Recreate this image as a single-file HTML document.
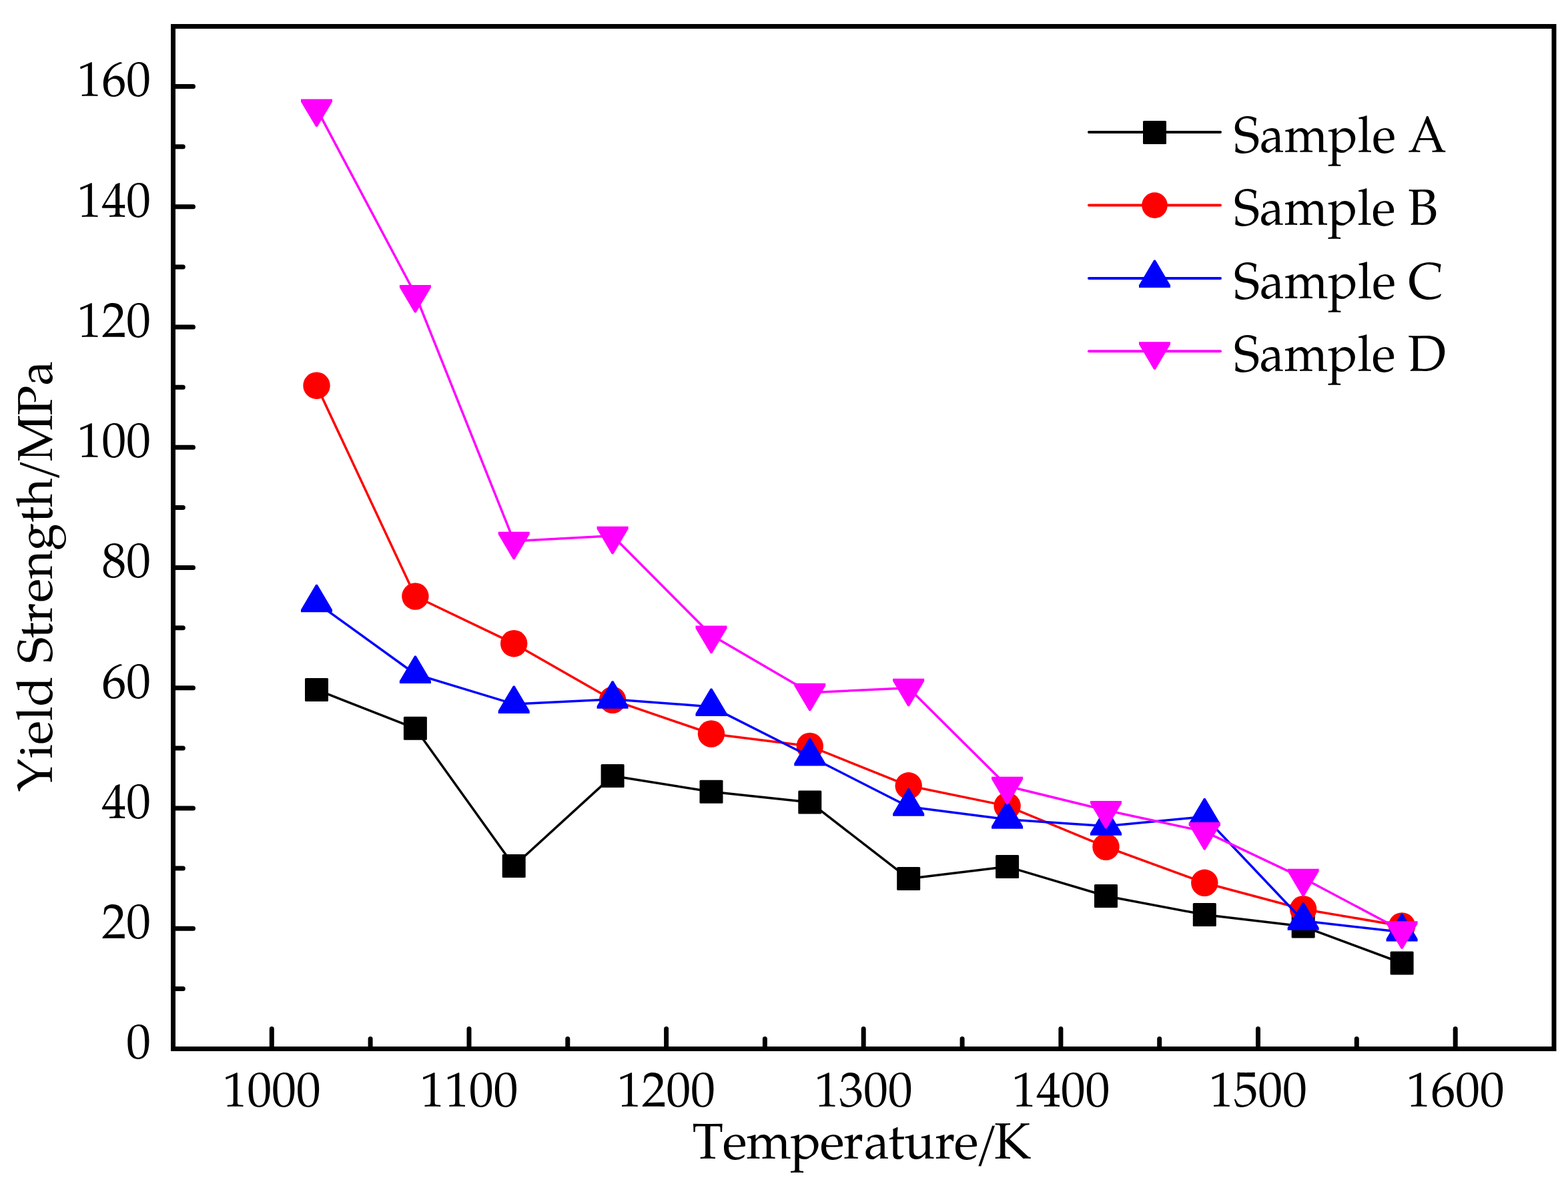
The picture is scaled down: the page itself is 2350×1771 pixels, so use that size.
<!DOCTYPE html>
<html><head><meta charset="utf-8"><title>Yield Strength vs Temperature</title>
<style>
html,body{margin:0;padding:0;background:#fff;}
body{width:2350px;height:1771px;overflow:hidden;}
svg{display:block;}
text{font-family:'TeX Gyre Pagella','Palatino Linotype','Book Antiqua',Palatino,'Liberation Serif',serif;fill:#000;font-kerning:none;}
</style></head><body>
<svg width="2350" height="1771" viewBox="0 0 2350 1771">
<rect x="0" y="0" width="2350" height="1771" fill="#fff"/>

<polyline points='474.5,1033.4 622.4,1091.3 770.2,1297.5 918.1,1162.4 1066,1186.3 1213.8,1201.9 1361.7,1316.4 1509.6,1298.5 1657.5,1342.5 1805.3,1370.5 1953.2,1388.1 2101.1,1443' fill='none' stroke='#000000' stroke-width='3.5' stroke-linejoin='round'/>
<rect x='457' y='1015.9' width='35' height='35' rx='1.5' fill='#000000'/>
<rect x='604.9' y='1073.8' width='35' height='35' rx='1.5' fill='#000000'/>
<rect x='752.7' y='1280' width='35' height='35' rx='1.5' fill='#000000'/>
<rect x='900.6' y='1144.9' width='35' height='35' rx='1.5' fill='#000000'/>
<rect x='1048.5' y='1168.8' width='35' height='35' rx='1.5' fill='#000000'/>
<rect x='1196.3' y='1184.4' width='35' height='35' rx='1.5' fill='#000000'/>
<rect x='1344.2' y='1298.9' width='35' height='35' rx='1.5' fill='#000000'/>
<rect x='1492.1' y='1281' width='35' height='35' rx='1.5' fill='#000000'/>
<rect x='1640' y='1325' width='35' height='35' rx='1.5' fill='#000000'/>
<rect x='1787.8' y='1353' width='35' height='35' rx='1.5' fill='#000000'/>
<rect x='1935.7' y='1370.6' width='35' height='35' rx='1.5' fill='#000000'/>
<rect x='2083.6' y='1425.5' width='35' height='35' rx='1.5' fill='#000000'/>
<polyline points='474.5,577.7 622.4,893.5 770.2,964.2 918.1,1048.8 1066,1099.5 1213.8,1118 1361.7,1177.3 1509.6,1207.6 1657.5,1268.8 1805.3,1322.8 1953.2,1362.2 2101.1,1387.4' fill='none' stroke='#ff0000' stroke-width='3.5' stroke-linejoin='round'/>
<circle cx='474.5' cy='577.7' r='20.2' fill='#ff0000'/>
<circle cx='622.4' cy='893.5' r='20.2' fill='#ff0000'/>
<circle cx='770.2' cy='964.2' r='20.2' fill='#ff0000'/>
<circle cx='918.1' cy='1048.8' r='20.2' fill='#ff0000'/>
<circle cx='1066' cy='1099.5' r='20.2' fill='#ff0000'/>
<circle cx='1213.8' cy='1118' r='20.2' fill='#ff0000'/>
<circle cx='1361.7' cy='1177.3' r='20.2' fill='#ff0000'/>
<circle cx='1509.6' cy='1207.6' r='20.2' fill='#ff0000'/>
<circle cx='1657.5' cy='1268.8' r='20.2' fill='#ff0000'/>
<circle cx='1805.3' cy='1322.8' r='20.2' fill='#ff0000'/>
<circle cx='1953.2' cy='1362.2' r='20.2' fill='#ff0000'/>
<circle cx='2101.1' cy='1387.4' r='20.2' fill='#ff0000'/>
<polyline points='474.5,903.2 622.4,1010 770.2,1054.9 918.1,1047.7 1066,1058.9 1213.8,1133.5 1361.7,1208.8 1509.6,1227.8 1657.5,1237.8 1805.3,1223.6 1953.2,1379.7 2101.1,1396.6' fill='none' stroke='#0000ff' stroke-width='3.5' stroke-linejoin='round'/>
<polygon points='473.3,875.7 475.7,875.7 498,913.4 498,917.2 451,917.2 451,913.4' fill='#0000ff'/>
<polygon points='621.2,982.5 623.6,982.5 645.9,1020.2 645.9,1024 598.9,1024 598.9,1020.2' fill='#0000ff'/>
<polygon points='769,1027.4 771.4,1027.4 793.7,1065.1 793.7,1068.9 746.7,1068.9 746.7,1065.1' fill='#0000ff'/>
<polygon points='916.9,1020.2 919.3,1020.2 941.6,1057.9 941.6,1061.7 894.6,1061.7 894.6,1057.9' fill='#0000ff'/>
<polygon points='1064.8,1031.4 1067.2,1031.4 1089.5,1069.1 1089.5,1072.9 1042.5,1072.9 1042.5,1069.1' fill='#0000ff'/>
<polygon points='1212.6,1106 1215,1106 1237.3,1143.7 1237.3,1147.5 1190.3,1147.5 1190.3,1143.7' fill='#0000ff'/>
<polygon points='1360.5,1181.3 1362.9,1181.3 1385.2,1219 1385.2,1222.8 1338.2,1222.8 1338.2,1219' fill='#0000ff'/>
<polygon points='1508.4,1200.3 1510.8,1200.3 1533.1,1238 1533.1,1241.8 1486.1,1241.8 1486.1,1238' fill='#0000ff'/>
<polygon points='1656.3,1210.3 1658.7,1210.3 1681,1248 1681,1251.8 1634,1251.8 1634,1248' fill='#0000ff'/>
<polygon points='1804.1,1196.1 1806.5,1196.1 1828.8,1233.8 1828.8,1237.6 1781.8,1237.6 1781.8,1233.8' fill='#0000ff'/>
<polygon points='1952,1352.2 1954.4,1352.2 1976.7,1389.9 1976.7,1393.7 1929.7,1393.7 1929.7,1389.9' fill='#0000ff'/>
<polygon points='2099.9,1369.1 2102.3,1369.1 2124.6,1406.8 2124.6,1410.6 2077.6,1410.6 2077.6,1406.8' fill='#0000ff'/>
<polyline points='474.5,162.6 622.4,441 770.2,810.8 918.1,802.7 1066,951.6 1213.8,1037.7 1361.7,1030.7 1509.6,1177.8 1657.5,1214 1805.3,1245.9 1953.2,1315.8 2101.1,1394.2' fill='none' stroke='#ff00ff' stroke-width='3.5' stroke-linejoin='round'/>
<polygon points='473.3,190.1 475.7,190.1 498,152.4 498,148.6 451,148.6 451,152.4' fill='#ff00ff'/>
<polygon points='621.2,468.5 623.6,468.5 645.9,430.8 645.9,427 598.9,427 598.9,430.8' fill='#ff00ff'/>
<polygon points='769,838.3 771.4,838.3 793.7,800.6 793.7,796.8 746.7,796.8 746.7,800.6' fill='#ff00ff'/>
<polygon points='916.9,830.2 919.3,830.2 941.6,792.5 941.6,788.7 894.6,788.7 894.6,792.5' fill='#ff00ff'/>
<polygon points='1064.8,979.1 1067.2,979.1 1089.5,941.4 1089.5,937.6 1042.5,937.6 1042.5,941.4' fill='#ff00ff'/>
<polygon points='1212.6,1065.2 1215,1065.2 1237.3,1027.5 1237.3,1023.7 1190.3,1023.7 1190.3,1027.5' fill='#ff00ff'/>
<polygon points='1360.5,1058.2 1362.9,1058.2 1385.2,1020.5 1385.2,1016.7 1338.2,1016.7 1338.2,1020.5' fill='#ff00ff'/>
<polygon points='1508.4,1205.3 1510.8,1205.3 1533.1,1167.6 1533.1,1163.8 1486.1,1163.8 1486.1,1167.6' fill='#ff00ff'/>
<polygon points='1656.3,1241.5 1658.7,1241.5 1681,1203.8 1681,1200 1634,1200 1634,1203.8' fill='#ff00ff'/>
<polygon points='1804.1,1273.4 1806.5,1273.4 1828.8,1235.7 1828.8,1231.9 1781.8,1231.9 1781.8,1235.7' fill='#ff00ff'/>
<polygon points='1952,1343.3 1954.4,1343.3 1976.7,1305.6 1976.7,1301.8 1929.7,1301.8 1929.7,1305.6' fill='#ff00ff'/>
<polygon points='2099.9,1421.7 2102.3,1421.7 2124.6,1384 2124.6,1380.2 2077.6,1380.2 2077.6,1384' fill='#ff00ff'/>
<rect x='259.5' y='39.5' width='2069.5' height='1532' fill='none' stroke='#000' stroke-width='7'/>
<path d='M259.5 1481.4H274.3 M259.5 1391.3H289.5 M259.5 1301.1H274.3 M259.5 1211H289.5 M259.5 1120.9H274.3 M259.5 1030.8H289.5 M259.5 940.7H274.3 M259.5 850.6H289.5 M259.5 760.4H274.3 M259.5 670.3H289.5 M259.5 580.2H274.3 M259.5 490.1H289.5 M259.5 400H274.3 M259.5 309.8H289.5 M259.5 219.7H274.3 M259.5 129.6H289.5 M407.3 1571.5V1541.5 M555.1 1571.5V1556.5 M703 1571.5V1541.5 M850.8 1571.5V1556.5 M998.6 1571.5V1541.5 M1146.4 1571.5V1556.5 M1294.2 1571.5V1541.5 M1442.1 1571.5V1556.5 M1589.9 1571.5V1541.5 M1737.7 1571.5V1556.5 M1885.5 1571.5V1541.5 M2033.3 1571.5V1556.5 M2181.2 1571.5V1541.5' stroke='#000' stroke-width='7' stroke-linecap='round' fill='none'/>
<text x='226' y='1586.2' font-size='73.5' text-anchor='end'>0</text>
<text x='226' y='1406' font-size='73.5' text-anchor='end'>20</text>
<text x='226' y='1225.7' font-size='73.5' text-anchor='end'>40</text>
<text x='226' y='1045.5' font-size='73.5' text-anchor='end'>60</text>
<text x='226' y='865.3' font-size='73.5' text-anchor='end'>80</text>
<text x='226' y='685' font-size='73.5' text-anchor='end'>100</text>
<text x='226' y='504.8' font-size='73.5' text-anchor='end'>120</text>
<text x='226' y='324.5' font-size='73.5' text-anchor='end'>140</text>
<text x='226' y='144.3' font-size='73.5' text-anchor='end'>160</text>
<text x='407.3' y='1657.5' font-size='73.5' text-anchor='middle'>1000</text>
<text x='703' y='1657.5' font-size='73.5' text-anchor='middle'>1100</text>
<text x='998.6' y='1657.5' font-size='73.5' text-anchor='middle'>1200</text>
<text x='1294.2' y='1657.5' font-size='73.5' text-anchor='middle'>1300</text>
<text x='1589.9' y='1657.5' font-size='73.5' text-anchor='middle'>1400</text>
<text x='1885.5' y='1657.5' font-size='73.5' text-anchor='middle'>1500</text>
<text x='2181.2' y='1657.5' font-size='73.5' text-anchor='middle'>1600</text>
<text x='1037.6 1083 1118.4 1184.6 1229.1 1264.1 1295.1 1331.1 1355.2 1401.3 1430 1460.2 1490.1' y='1736.4' font-size='76'>Temperature/K</text>
<text transform='translate(78,1187) rotate(-90)' x='0.8 50.5 71.6 106.9 128.4 157.3 193.6 230.3 254.3 284.6 319.7 362.1 403.7 427.6 464.7 495.7 564.5 609.6' y='0' font-size='74'>Yield Strength/MPa</text>
<line x1='1632' y1='197.9' x2='1829' y2='197.9' stroke='#000000' stroke-width='4' stroke-linecap='round'/>
<rect x='1713' y='180.9' width='35' height='35' rx='1.5' fill='#000000'/>
<text x='1849' y='227.6' font-size='76' textLength='319' lengthAdjust='spacingAndGlyphs'>Sample A</text>
<line x1='1632' y1='307.6' x2='1829' y2='307.6' stroke='#ff0000' stroke-width='4' stroke-linecap='round'/>
<circle cx='1730.5' cy='307.6' r='19.3' fill='#ff0000'/>
<text x='1849' y='337.1' font-size='76' textLength='306' lengthAdjust='spacingAndGlyphs'>Sample B</text>
<line x1='1632' y1='417' x2='1829' y2='417' stroke='#0000ff' stroke-width='4' stroke-linecap='round'/>
<polygon points='1729.3,389.5 1731.7,389.5 1754,427.2 1754,431 1707,431 1707,427.2' fill='#0000ff'/>
<text x='1849' y='446.6' font-size='76' textLength='314' lengthAdjust='spacingAndGlyphs'>Sample C</text>
<line x1='1632' y1='526.2' x2='1829' y2='526.2' stroke='#ff00ff' stroke-width='4' stroke-linecap='round'/>
<polygon points='1729.3,553.7 1731.7,553.7 1754,516 1754,512.2 1707,512.2 1707,516' fill='#ff00ff'/>
<text x='1849' y='555.8' font-size='76' textLength='318' lengthAdjust='spacingAndGlyphs'>Sample D</text>
</svg>
</body></html>
